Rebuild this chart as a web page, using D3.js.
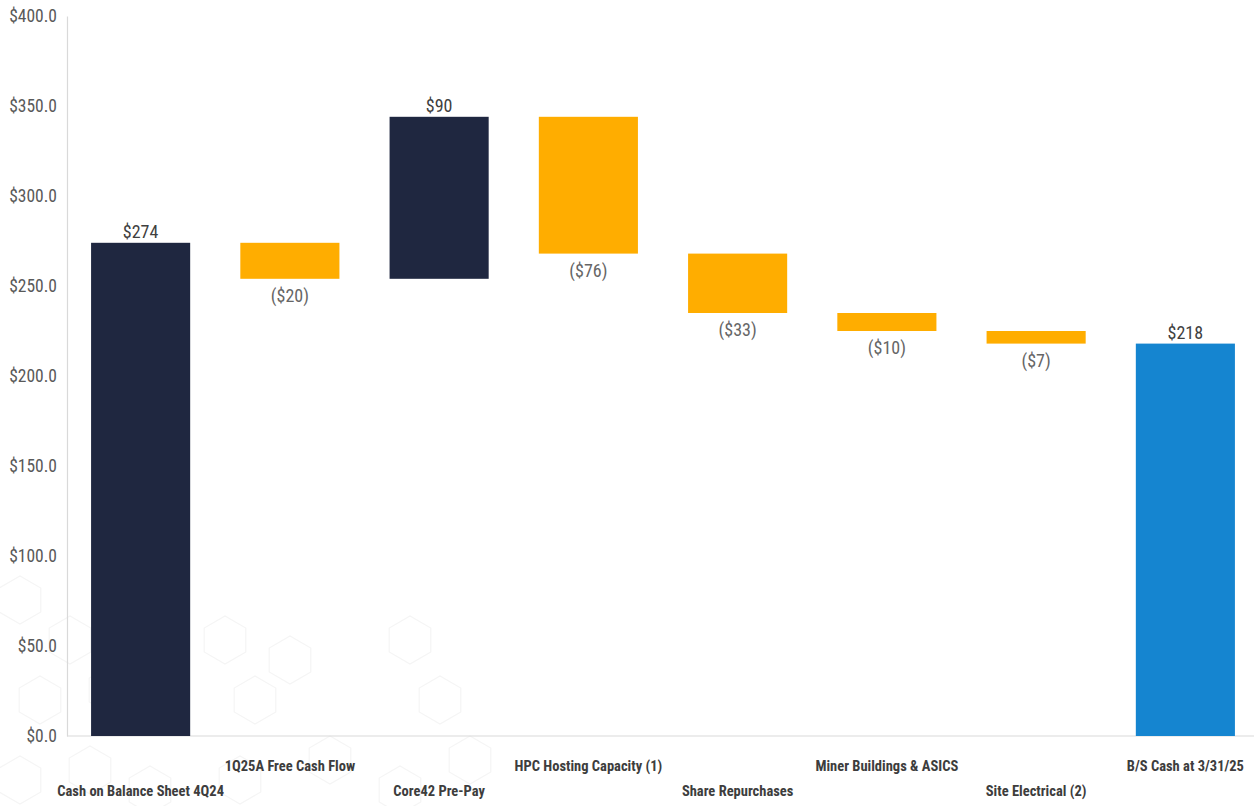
<!DOCTYPE html>
<html>
<head>
<meta charset="utf-8">
<script src="https://cdn.jsdelivr.net/npm/d3@7"></script>
<style>
  html, body { margin: 0; padding: 0; background: #ffffff; }
  svg { display: block; }
  text { font-family: "Liberation Sans Narrow", "Arial Narrow", "Roboto Condensed", "Liberation Sans", sans-serif; }
</style>
</head>
<body>
<svg id="chart" width="1254" height="806"></svg>
<script>
// Cash bridge, $ millions
const categories = [
  "Cash on Balance Sheet 4Q24",
  "1Q25A Free Cash Flow",
  "Core42 Pre-Pay",
  "HPC Hosting Capacity (1)",
  "Share Repurchases",
  "Miner Buildings & ASICS",
  "Site Electrical (2)",
  "B/S Cash at 3/31/25"
];
const changes = [274, -20, 90, -76, -33, -10, -7, 218];
const kinds = ["total", "delta", "delta", "delta", "delta", "delta", "delta", "end"];
const valueLabels = ["$274", "($20)", "$90", "($76)", "($33)", "($10)", "($7)", "$218"];
const yTicks = [0, 50, 100, 150, 200, 250, 300, 350, 400];

const colors = { total: "#1f2740", up: "#1f2740", down: "#ffad00", end: "#1585d0" };

const svg = d3.select("#chart");
const plot = { left: 66, right: 1260, top: 16, bottom: 736 };

// faint hexagon backdrop in the lower-left corner
const hexCenters = [
  [20, 600], [70, 640], [40, 700], [110, 690], [20, 780], [90, 770],
  [225, 640], [255, 700], [290, 660], [330, 760], [410, 640], [440, 700],
  [470, 760], [240, 780], [400, 790], [150, 790]
];
const hex = (cx, cy, r) => d3.range(6).map(k => {
  const a = Math.PI / 3 * k + Math.PI / 6;
  return [cx + r * Math.cos(a), cy + r * Math.sin(a)];
});
svg.append("g").selectAll("polygon")
  .data(hexCenters)
  .join("polygon")
  .attr("points", d => hex(d[0], d[1], 24).map(p => p.join(",")).join(" "))
  .attr("fill", "none")
  .attr("stroke", "#f5f5f5")
  .attr("stroke-width", 1.2);

const x = d3.scaleBand()
  .domain(categories)
  .range([plot.left, plot.right])
  .paddingInner(0.336)
  .paddingOuter(0.168);

const y = d3.scaleLinear().domain([0, 400]).range([plot.bottom, plot.top]);

// running totals for the floating bars
let running = 0;
const bars = categories.map((c, i) => {
  const v = changes[i];
  let y0, y1, fill;
  if (kinds[i] === "total") {
    y0 = 0; y1 = v; running = v; fill = colors.total;
  } else if (kinds[i] === "end") {
    y0 = 0; y1 = v; fill = colors.end;
  } else {
    y0 = running; y1 = running + v; running = y1;
    fill = v >= 0 ? colors.up : colors.down;
  }
  return { c, i, v, lo: Math.min(y0, y1), hi: Math.max(y0, y1), fill, label: valueLabels[i] };
});

// y axis
const yAxis = d3.axisLeft(y)
  .tickValues(yTicks)
  .tickSize(0)
  .tickPadding(10)
  .tickFormat(d => "$" + d3.format(".1f")(d));

const gy = svg.append("g").attr("transform", `translate(${plot.left + 1},0)`).call(yAxis);
gy.select(".domain").attr("stroke", "#d9d9d9").attr("stroke-width", 1.2);
gy.selectAll(".tick text")
  .attr("fill", "#595959")
  .attr("font-size", 17.5);

// baseline
svg.append("line")
  .attr("x1", plot.left + 1).attr("x2", 1254)
  .attr("y1", y(0)).attr("y2", y(0))
  .attr("stroke", "#d9d9d9").attr("stroke-width", 1.2);

// bars
svg.append("g").selectAll("rect")
  .data(bars)
  .join("rect")
  .attr("x", d => x(d.c))
  .attr("width", x.bandwidth())
  .attr("y", d => y(d.hi))
  .attr("height", d => y(d.lo) - y(d.hi))
  .attr("fill", d => d.fill);

// value labels: above rising/total bars, below falling bars
svg.append("g").selectAll("text")
  .data(bars)
  .join("text")
  .attr("x", d => x(d.c) + x.bandwidth() / 2)
  .attr("y", d => d.v >= 0 ? y(d.hi) - 5 : y(d.lo) + 23)
  .attr("text-anchor", "middle")
  .attr("font-size", 18)
  .attr("fill", d => d.v >= 0 ? "#404040" : "#666666")
  .text(d => d.label);

// category labels, staggered on two rows
svg.append("g").selectAll("text")
  .data(categories)
  .join("text")
  .attr("x", d => x(d) + x.bandwidth() / 2)
  .attr("y", (d, i) => i % 2 === 0 ? 796 : 771)
  .attr("text-anchor", "middle")
  .attr("font-size", 14.5)
  .attr("font-weight", "bold")
  .attr("fill", "#3d3d3d")
  .text(d => d);
</script>
</body>
</html>
